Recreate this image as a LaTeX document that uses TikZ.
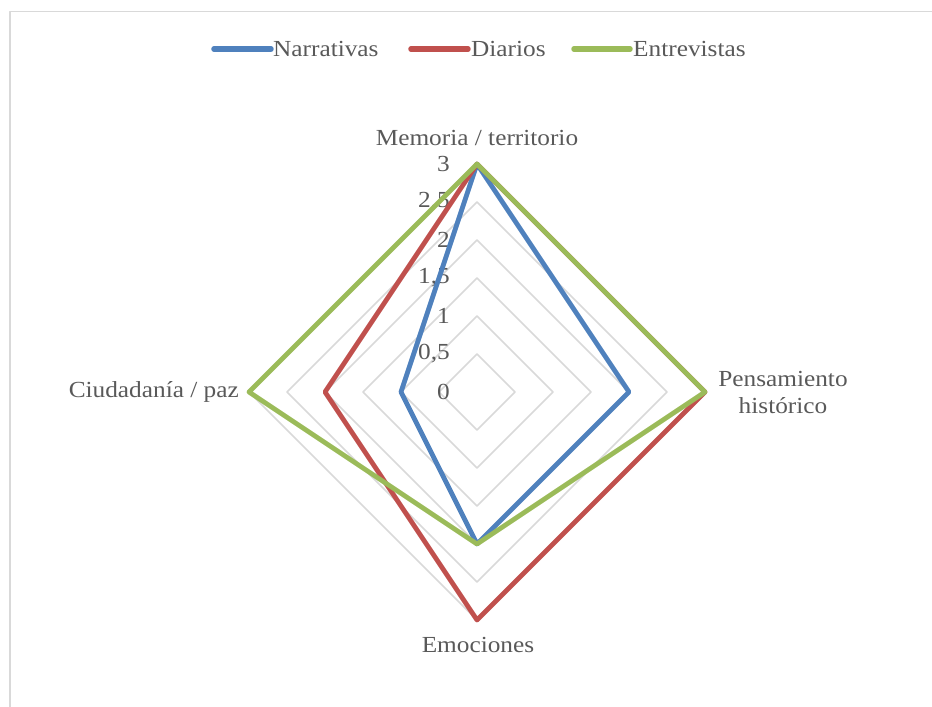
\documentclass[tikz,border=0pt]{standalone}
\usepackage{fontspec}
\setmainfont{Liberation Serif}[FakeStretch=1.1]
\usetikzlibrary{arrows}
\definecolor{narr}{HTML}{4F81BD}
\definecolor{diar}{HTML}{C0504D}
\definecolor{entr}{HTML}{9BBB59}
\definecolor{rejilla}{HTML}{D9D9D9}
\definecolor{texto}{HTML}{595959}
\begin{document}
\begin{tikzpicture}[line cap=round,line join=round,x=1pt,y=1pt,
	serie/.style={line width=4.8pt},
	rejillaline/.style={color=rejilla,line width=1.5pt},
	etiqueta/.style={text=texto,font=\fontsize{23}{27}\selectfont,inner sep=0pt}]
	\useasboundingbox (-477,-315) rectangle (455,392);
	\draw [rejillaline] (-467,-330)-- (-467,380.3)-- (470,380.3);
	% rejilla
	\foreach \r in {38,76,...,228}
		\draw [rejillaline] (0,\r)-- (\r,0)-- (0,-\r)-- (-\r,0)-- cycle;
	\foreach \v/\t in {0/0,1/{0,5},2/1,3/{1,5},4/2,5/{2,5},6/3}
		\node[etiqueta,anchor=east] (tick\v) at (-27,\v*38) {\t};
	% vertices
	\coordinate (N1) at (0,228);
	\coordinate (N2) at (152,0);
	\coordinate (N3) at (0,-152);
	\coordinate (N4) at (-76,0);
	\coordinate (D1) at (0,228);
	\coordinate (D2) at (228,0);
	\coordinate (D3) at (0,-228);
	\coordinate (D4) at (-152,0);
	\coordinate (E1) at (0,228);
	\coordinate (E2) at (228,0);
	\coordinate (E3) at (0,-152);
	\coordinate (E4) at (-228,0);
	\draw [serie,narr] (N1)-- (N2)-- (N3)-- (N4)-- cycle;
	\draw [serie,diar] (D1)-- (D2)-- (D3)-- (D4)-- cycle;
	\draw [serie,entr] (E1)-- (E2)-- (E3)-- (E4)-- cycle;
	% ejes
	\node[etiqueta] (memoria) at (0,254) {Memoria / territorio};
	\node[etiqueta,align=center] (pensamiento) at (306,0) {Pensamiento\\hist\'orico};
	\node[etiqueta] (emociones) at (1,-253) {Emociones};
	\node[etiqueta,anchor=east] (ciudadania) at (-238,0) {Ciudadan\'ia / paz};
	% leyenda
	\coordinate (lnA) at (-263,343);
	\coordinate (lnB) at (-206,343);
	\coordinate (ldA) at (-66,343);
	\coordinate (ldB) at (-9,343);
	\coordinate (leA) at (97,343);
	\coordinate (leB) at (153,343);
	\draw [serie,narr,line width=5.5pt] (lnA)-- (lnB);
	\draw [serie,diar,line width=5.5pt] (ldA)-- (ldB);
	\draw [serie,entr,line width=5.5pt] (leA)-- (leB);
	\node[etiqueta,anchor=west] (narrativas) at (-204,343) {Narrativas};
	\node[etiqueta,anchor=west] (diarios) at (-6,343) {Diarios};
	\node[etiqueta,anchor=west] (entrevistas) at (156,343) {Entrevistas};
\end{tikzpicture}
\end{document}
